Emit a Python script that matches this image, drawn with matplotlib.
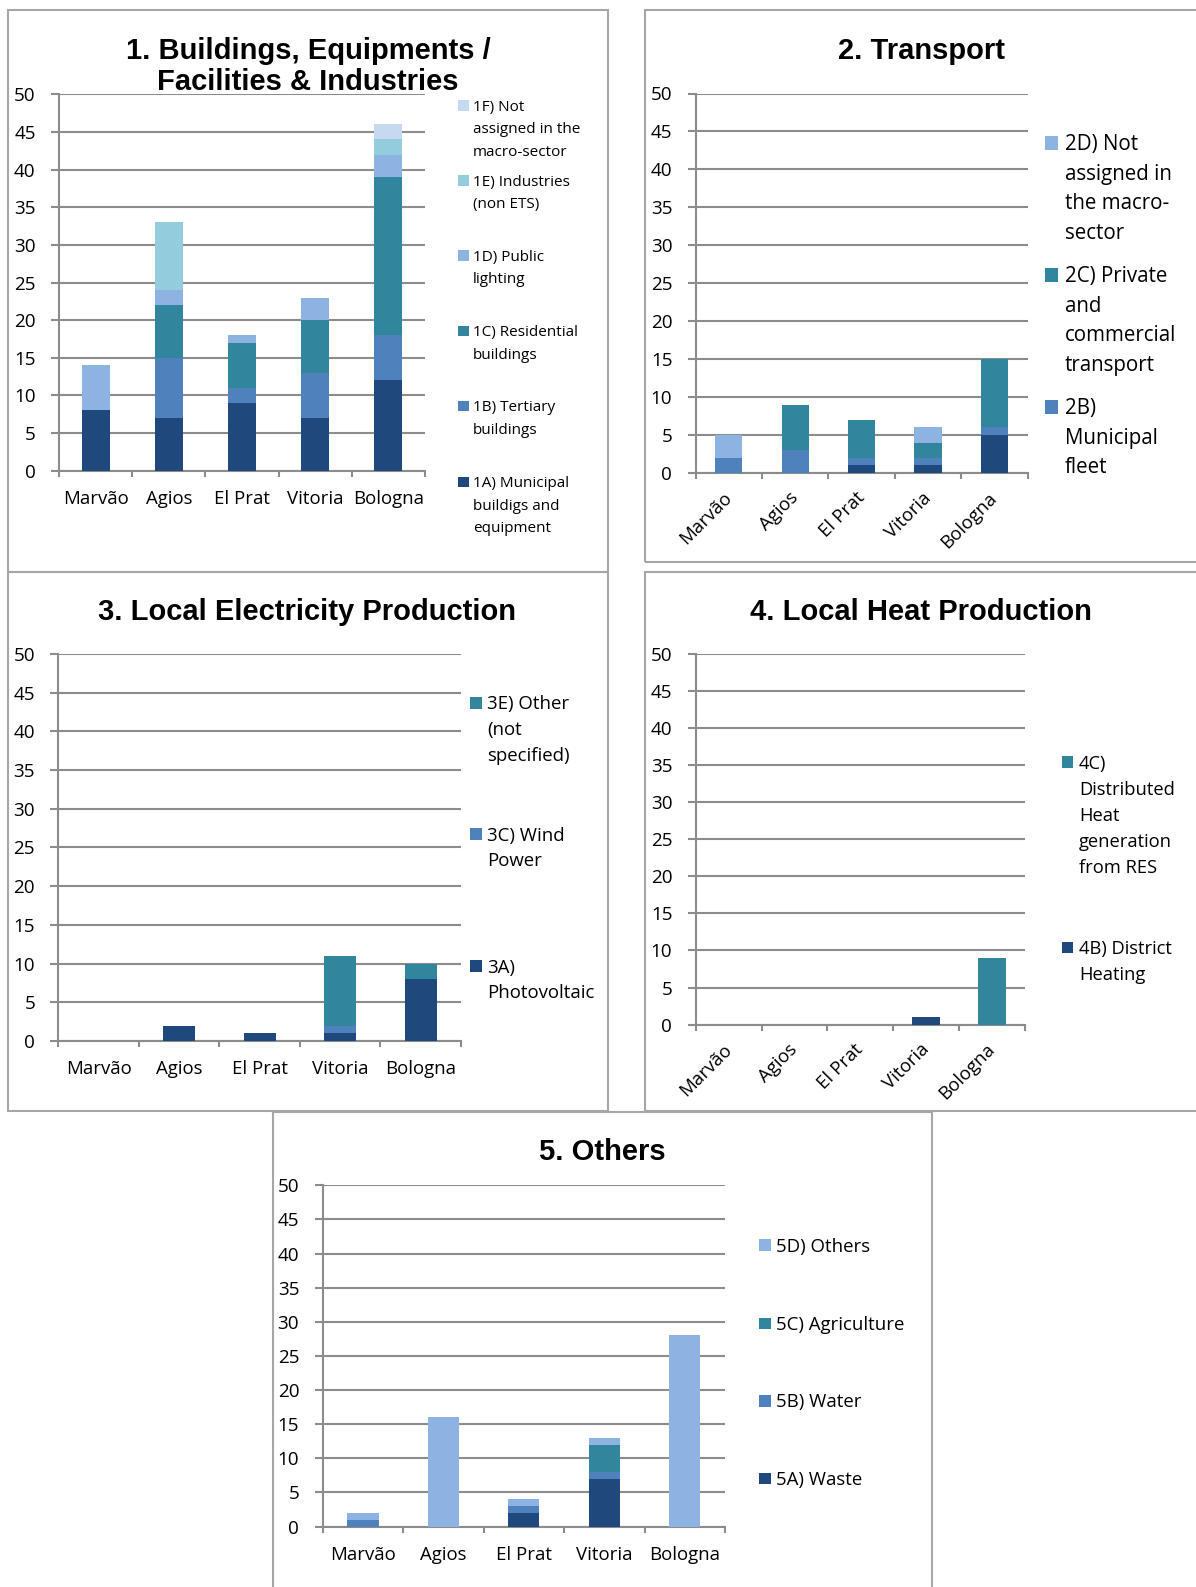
import matplotlib
matplotlib.use("Agg")
import matplotlib.pyplot as plt
from matplotlib.patches import Rectangle
import numpy as np

plt.rcParams['font.family'] = ['Open Sans', 'DejaVu Sans']

W, H = 1196, 1587

# ---------------- data ----------------
cities = ["Marvão", "Agios", "El Prat", "Vitoria", "Bologna"]
yticks = [0, 5, 10, 15, 20, 25, 30, 35, 40, 45, 50]

# 1. Buildings, Equipments / Facilities & Industries
p1_1A = [8, 7, 9, 7, 12]
p1_1B = [0, 8, 2, 6, 6]
p1_1C = [0, 7, 6, 7, 21]
p1_1D = [6, 2, 1, 3, 3]
p1_1E = [0, 9, 0, 0, 2]
p1_1F = [0, 0, 0, 0, 2]
p1_labels = ["1F) Not\nassigned in the\nmacro-sector", "1E) Industries\n(non ETS)",
             "1D) Public\nlighting", "1C) Residential\nbuildings",
             "1B) Tertiary\nbuildings", "1A) Municipal\nbuildigs and\nequipment"]

# 2. Transport
p2_2A = [0, 0, 1, 1, 5]
p2_2B = [2, 3, 1, 1, 1]
p2_2C = [0, 6, 5, 2, 9]
p2_2D = [3, 0, 0, 2, 0]
p2_labels = ["2D) Not\nassigned in\nthe macro-\nsector", "2C) Private\nand\ncommercial\ntransport",
             "2B)\nMunicipal\nfleet"]

# 3. Local Electricity Production
p3_3A = [0, 2, 1, 1, 8]
p3_3C = [0, 0, 0, 1, 0]
p3_3E = [0, 0, 0, 9, 2]
p3_labels = ["3E) Other\n(not\nspecified)", "3C) Wind\nPower", "3A)\nPhotovoltaic"]

# 4. Local Heat Production
p4_4B = [0, 0, 0, 1, 0]
p4_4C = [0, 0, 0, 0, 9]
p4_labels = ["4C)\nDistributed\nHeat\ngeneration\nfrom RES", "4B) District\nHeating"]

# 5. Others
p5_5A = [0, 0, 2, 7, 0]
p5_5B = [1, 0, 1, 1, 0]
p5_5C = [0, 0, 0, 4, 0]
p5_5D = [1, 16, 1, 1, 28]
p5_labels = ["5D) Others", "5C) Agriculture", "5B) Water", "5A) Waste"]

# ---------------- style ----------------
NAVY = "#1F497D"
MED = "#4F81BD"
TEAL = "#31859C"
LIGHT = "#8DB3E2"
CYAN = "#93CDDD"
PALE = "#C6D9F1"
GRID = "#8C8C8C"
BORDER = "#A6A6A6"

fig = plt.figure(figsize=(W / 100, H / 100), dpi=100)
fig.patch.set_facecolor("white")


def fx(x):
    return x / W


def fy(y):
    return 1 - y / H


def PX(pt):
    return pt * 100 / 72


def panel(box, series, colors, width, rotated):
    x0, y0, x1, y1 = box
    ax = fig.add_axes([fx(x0), fy(y1), (x1 - x0) / W, (y1 - y0) / H])
    x = np.arange(len(cities))
    bottom = np.zeros(len(cities))
    for vals, c in zip(series, colors):
        v = np.array(vals, dtype=float)
        ax.bar(x, v, width, bottom=bottom, color=c, linewidth=0, zorder=3)
        bottom += v
    ax.set_xlim(-0.5, len(cities) - 0.5)
    ax.set_ylim(0, 50)
    ax.set_yticks(yticks)
    ax.set_yticklabels([str(t) for t in yticks])
    ax.yaxis.grid(True, color=GRID, lw=1.5, zorder=0)
    ax.set_axisbelow(True)
    for s in ("top", "right"):
        ax.spines[s].set_visible(False)
    for s in ("left", "bottom"):
        ax.spines[s].set_color(GRID)
        ax.spines[s].set_linewidth(1.5)
    ax.tick_params(axis="y", length=5.8, width=1.5, color=GRID, pad=11,
                   labelsize=13.6, labelcolor="black")
    ax.set_xticks(x)
    if rotated:
        ax.set_xticklabels(cities, rotation=45, ha="right", va="center",
                           rotation_mode="anchor")
        ax.tick_params(axis="x", which="major", length=0, pad=16,
                       labelsize=13.4)
    else:
        ax.set_xticklabels(cities)
        ax.tick_params(axis="x", which="major", length=0, pad=14,
                       labelsize=13.4)
    ax.set_xticks(np.arange(-0.5, len(cities), 1), minor=True)
    ax.tick_params(axis="x", which="minor", length=4.3, width=1.5,
                   color=GRID)
    return ax


def legend(entries, colors, mx, msize, tx, ys, spacing, fs):
    fpx = PX(fs)
    for lab, c, yc in zip(entries, colors, ys):
        fig.add_artist(Rectangle((fx(mx), fy(yc + msize / 2)), msize / W,
                                 msize / H, transform=fig.transFigure,
                                 facecolor=c, edgecolor="none"))
        for i, line in enumerate(lab.split("\n")):
            yb = yc + i * spacing + 0.357 * fpx
            fig.text(fx(tx), fy(yb), line, fontsize=fs, ha="left",
                     va="baseline", color="black")


def title(xc, yc, txt):
    fig.text(fx(xc), fy(yc), txt, fontsize=21, fontweight="bold",
             family="Liberation Sans", ha="center", va="center_baseline")


def border(x0, y0, x1, y1):
    fig.add_artist(Rectangle((fx(x0), fy(y1)), (x1 - x0) / W, (y1 - y0) / H,
                             transform=fig.transFigure, facecolor="none",
                             edgecolor=BORDER, linewidth=1.5))


# borders
border(8, 10, 608, 572)
border(645, 10, 1210, 562)
border(8, 572, 608, 1111)
border(645, 572, 1210, 1111)
border(272.7, 1111.7, 932.4, 1600)

# panel 1
panel((59, 94.3, 425, 470.7), [p1_1A, p1_1B, p1_1C, p1_1D, p1_1E, p1_1F],
      [NAVY, MED, TEAL, LIGHT, CYAN, PALE], 0.38, False)
title(308, 47.7, "1. Buildings, Equipments /")
title(308, 79, "Facilities & Industries")
legend(p1_labels, [PALE, CYAN, LIGHT, TEAL, MED, NAVY], 458.4, 10.5, 472.8,
       [105.6, 180.4, 255.6, 331, 406, 482], 22.4, 11)

# panel 2
panel((695.7, 93.5, 1027.6, 473), [p2_2A, p2_2B, p2_2C, p2_2D],
      [NAVY, MED, TEAL, LIGHT], 0.41, True)
title(921, 47.7, "2. Transport")
legend(p2_labels, [LIGHT, TEAL, MED], 1045, 13, 1064.8, [143, 275, 407],
       29.4, 14.8)

# panel 3
panel((58.4, 653.8, 461, 1041), [p3_3A, p3_3C, p3_3E], [NAVY, MED, TEAL],
      0.40, False)
title(307, 609, "3. Local Electricity Production")
legend(p3_labels, [TEAL, MED, NAVY], 470, 11.5, 487, [702.8, 834, 966],
       25.6, 13.4)

# panel 4
panel((695.7, 653.8, 1024.7, 1024.6), [p4_4B, p4_4C], [NAVY, TEAL], 0.42,
      True)
title(920.7, 609, "4. Local Heat Production")
legend(p4_labels, [TEAL, NAVY], 1062, 11.3, 1079, [762, 947.8], 26, 13.2)

# panel 5
panel((322.6, 1185.3, 725, 1526.5), [p5_5A, p5_5B, p5_5C, p5_5D],
      [NAVY, MED, TEAL, LIGHT], 0.39, False)
title(602.3, 1149.3, "5. Others")
legend(p5_labels, [LIGHT, TEAL, MED, NAVY], 759.3, 11.6, 776.4,
       [1245, 1323.3, 1400.7, 1478.3], 25.6, 13.4)

fig.savefig("out.png", dpi=100, facecolor="white")
